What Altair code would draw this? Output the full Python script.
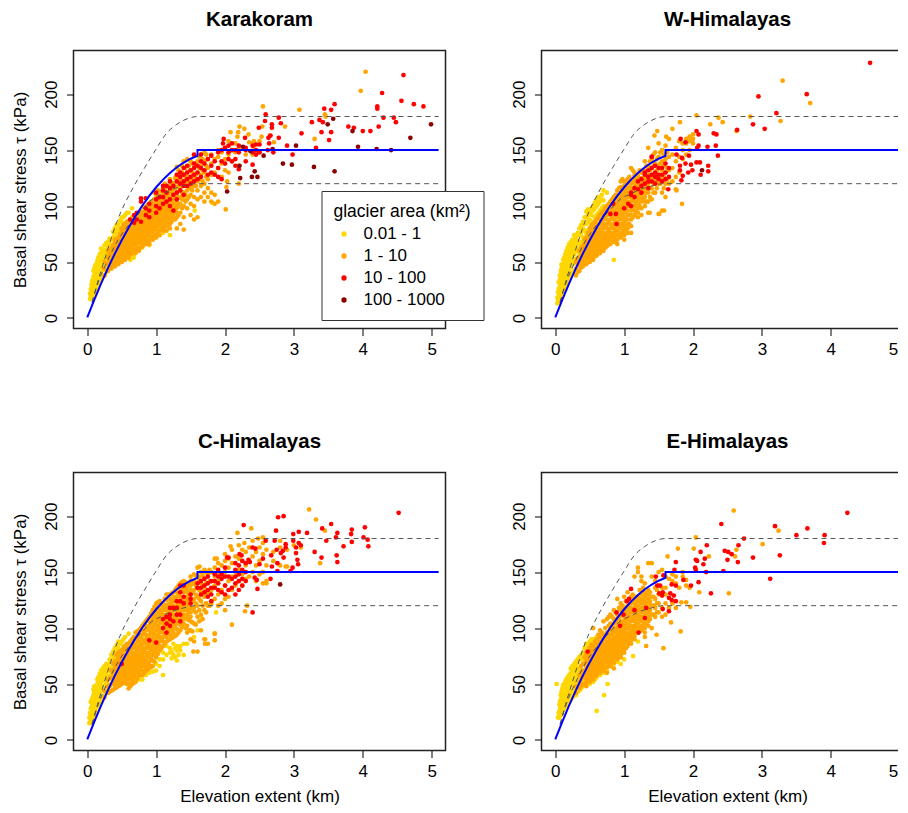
import altair as alt
import pandas as pd

CLASSES = ["0.01 - 1", "1 - 10", "10 - 100", "100 - 1000"]
COLORS = ["#FFD700", "#FFA500", "#FF0000", "#8B0000"]

# Reference lines
BLUE_X = [0, .1, .2, .3, .4, .5, .6, .7, .8, .9, 1, 1.1, 1.2, 1.3, 1.4, 1.5, 1.6, 1.6, 5.1]
BLUE_Y = [0.5, 16, 30.7, 44.5, 57.5, 69.5, 80.7, 91, 100.5, 109.1, 116.8, 123.6, 129.6, 134.7, 138.9, 142.3, 144.8, 150, 150]
UP_X = [.07, .15, .25, .43, .67, .85, 1, 1.15, 1.3, 1.45, 1.6, 5.1]
UP_Y = [14, 32, 52, 86, 117, 136, 151, 165, 173, 178, 180, 180]
LOW_X = [.07, .16, .3, .45, .6, .8, .94, 1.1, 1.23, 1.4, 1.57, 5.1]
LOW_Y = [14, 32, 52, 70, 83, 97, 106, 111, 115, 118, 120, 120]

# Karakoram
KA_Y = {.04:[17,22],.06:[18,24,30],.08:[22,28,34],.1:[20,26,32,38,44],.13:[26,32,38,44,48],.16:[30,36,42,48,54],.2:[34,40,46,52,58,62],.25:[38,46,52,58,65],.3:[44,50,58,64,68],.35:[48,56,62,70],.4:[52,60,68,74,80],.45:[60,70,78,84],.5:[54,66,76,86,90],.55:[70,82,92],.6:[54,82,94],.65:[56,90,98],.7:[58,60],.8:[63],.9:[68,65],1:[72],1.1:[76],1.2:[74,98],1.56:[96],1.81:[103]}
KA_Y2 = {.05:[20,26],.07:[21,27,33],.09:[25,31,37,42],.115:[23,29,35,41,47],.145:[29,35,41,46,51],.18:[33,39,45,51,57],.225:[37,43,49,55,61],.275:[41,49,55,61,67],.325:[46,53,60,66,71],.375:[50,58,65,72,77],.425:[56,64,71,77,83],.475:[62,74,81,87],.525:[72,84,90],.575:[76,86,94],.625:[52,55],.675:[54,57]}
KA_O = {.25:[38,44,50],.3:[42,48,54,60],.35:[44,50,56,62],.4:[46,52,58,64,70],.45:[48,54,60,66,72],.5:[50,56,62,68,74,80],.55:[52,58,64,70,76,84],.6:[54,60,66,72,78,86],.65:[58,63,69,75,81,88],.7:[58,65,71,77,83,90],.75:[60,67,73,79,85,92],.8:[64,70,76,82,88,95],.85:[66,72,78,84,90,96],.9:[66,74,80,86,92,100],.95:[70,77,83,89,95,102],1:[72,79,85,91,97,104,110],1.05:[74,82,88,94,100,108],1.1:[78,84,90,96,102,110,116],1.15:[78,86,92,98,104,112],1.2:[80,88,94,100,108,118,124],1.25:[90,96,102,110,120],1.3:[80,90,98,104,112,122,128,135],1.35:[84,94,102,108,116,124,130],1.4:[79,90,100,106,112,120,128,140],1.45:[98,106,114,122,130,142],1.5:[92,102,110,116,124,132,140],1.55:[88,100,108,118,126,134,145],1.6:[90,106,114,122,130,140],1.65:[108,118,128,136,146],1.7:[104,112,120,130,140,148],1.75:[108,116,124,134,142],1.8:[104,112,128,138,146],1.85:[102,110,130,142],1.9:[104,134,144,150],1.95:[126,138,148],2:[132,142,152],2.05:[130,146,158],2.1:[140,150],2.15:[148,156],2.2:[136,152],2.3:[146],2.4:[146,156],2.5:[148,158]}
KA_O3 = {.325:[45,51,57],.375:[47,53,59,65],.425:[49,55,61,67],.475:[51,57,63,69,75],.525:[53,59,65,71,77,83],.575:[55,61,67,73,79,86],.625:[57,63,69,75,81,88],.675:[60,66,72,78,85,91],.725:[62,68,74,80,87,93],.775:[63,70,76,82,89,95],.825:[67,73,79,85,92,99],.875:[69,75,81,87,94,101],.925:[71,77,83,89,96,104],.975:[74,80,86,92,99,106,112],1.025:[76,83,89,95,102,110,114],1.075:[80,87,93,99,106,113],1.125:[82,89,95,101,108,115,120],1.175:[84,91,97,103,110,118],1.225:[86,93,99,105,113,121],1.275:[88,95,101,107,116,125],1.325:[92,100,108,118,126,132],1.375:[98,106,112,122,130,136],1.425:[104,110,118,126,134],1.475:[108,118,126,136],1.525:[114,122,130,138],1.575:[118,128,138],1.625:[124,134,144],1.675:[122,132,142],1.725:[126,136,146]}
KA_O4 = {.4:[49,55,61,67],.45:[51,57,63,69],.5:[53,59,65,71,77],.55:[55,61,67,73,80],.6:[57,63,69,75,82],.65:[60,66,72,78,85],.7:[61,68,74,80,87],.75:[63,70,76,82,89],.8:[67,73,79,85,92],.85:[69,75,81,87,93],.9:[70,77,83,89,96],.95:[73,80,86,92,99],1:[75,82,88,94,100,107],1.05:[78,85,91,97,104],1.1:[81,87,93,99,106,113],1.15:[82,89,95,101,108],1.2:[84,91,97,104,113],1.25:[93,99,106,115],1.3:[94,101,108,117,125]}
KA_O2 = [(4.04,220),(3.97,203),(2.55,189),(3.08,186),(3.45,182),(3.46,180),(2.87,171),(3.3,160),(2.08,166),(2.21,171),(2.28,169),(2.19,166),(2.18,162),(2.42,158),(2.53,162),(2.54,171),(2.65,163),(2.71,157),(2.34,164),(2.35,157),(2.41,153),(2.01,97),(2.03,122),(2.2,120),(2.02,117)]
KA_R = {.62:[88],.68:[85,92],.72:[94,88],.78:[86,104,107],.85:[92,98,107],.9:[90,96,102],1:[94,100,106,112],1.05:[98,108],1.1:[102,108,114,118],1.15:[104,112,118],1.2:[100,106,116,122],1.25:[96,110,118],1.3:[106,112,122,128],1.35:[114,120,126,130],1.4:[110,118,122,128,134],1.45:[118,124,130,136],1.5:[120,126,132],1.55:[122,128,134,138,146],1.6:[124,130,136],1.65:[126,134,140,146],1.7:[132,138],1.75:[128,142],1.8:[130,136,145],1.85:[128,140],1.9:[126,134,148],1.95:[124,150,140],2:[138,152],2.05:[142,148,154],2.1:[140,150,156],2.15:[136,142,150],2.2:[133,148,154],2.3:[140,150,152],2.4:[137,148,154],2.45:[146,150,155],2.5:[148,155]}
KA_R2 = [(4.59,217),(4.28,201),(4.56,194),(4.74,191),(4.88,189),(4.21,189),(4.21,187),(3.59,191),(3.54,186),(3.44,187),(2.59,182),(2.58,176),(2.78,179),(2.81,174),(3.26,175),(3.37,177),(3.42,175),(3.79,171),(3.87,170),(4,167),(4.11,167),(4.23,171),(4.3,179),(4.45,179),(4.48,175),(3.4,166),(3.54,166),(3.51,159),(3.11,165),(2.49,170),(2.68,173),(2.68,170),(2.78,161),(2.66,163),(2.63,161),(2.64,156),(2.9,154),(2.98,146),(3.32,152),(2.29,161),(1.98,160),(1.97,156),(2.62,150),(2.7,148)]
KA_D = [(4.99,173),(4.69,161),(3.57,178),(3.49,173),(3.85,167),(3.93,153),(4.2,151),(4.41,150),(3.03,154),(2.97,137),(2.84,138),(3.29,135),(3.59,131),(2.69,151),(2.56,145),(2.47,126),(2.39,126),(2.43,131),(2.22,125),(2.21,136),(2.03,113),(2.26,153),(2.37,149)]

# W-Himalayas
WH_Y = {.03:[13,18],.05:[15,20,26,32],.08:[18,24,30,36,42],.1:[22,28,34,40,46],.13:[26,32,38,44,50,54],.16:[30,38,44,50,56,60],.2:[36,42,48,54,60,66],.25:[40,48,54,60,66,70],.3:[40,52,60,66,72],.35:[46,58,66,74,80],.4:[47,50,64,72,80,86],.45:[76,84,90,95],.5:[52,80,88,94],.55:[86,96,100],.6:[56,92,100,105],.65:[96,104],.7:[100,105,114],.75:[112],.85:[52]}
WH_Y2 = {.04:[14,17,23],.065:[17,22,28,34,38],.09:[20,26,32,38,44,48],.115:[24,30,36,42,48,52],.145:[28,35,41,47,53,57],.18:[33,40,46,52,58,63],.225:[38,45,51,57,63,68],.275:[42,50,57,63,69,74],.325:[54,62,69,76],.375:[60,68,76,83],.425:[70,78,84,90],.475:[78,86,92,97],.525:[84,92,98],.575:[90,98,103],.625:[94,102,108],.675:[98,106,110]}
WH_O = {.3:[38,44,50],.35:[42,48,54,60],.4:[46,52,58,64],.45:[48,54,60,66,72],.5:[50,56,62,68,74,80],.55:[52,58,64,70,78,84],.6:[56,62,68,74,80,88],.65:[58,64,70,76,84,92],.7:[60,66,72,80,88,96],.75:[64,70,76,84,92,100],.8:[66,72,80,88,96,104],.85:[68,76,84,92,100,108],.9:[66,74,82,90,98,106,114],.95:[72,80,88,96,104,112,122],1:[70,78,86,94,102,110,118,122],1.05:[76,84,92,100,108,116,124],1.1:[76,88,96,104,112,120,134],1.15:[92,100,108,116,124,130],1.2:[90,98,106,114,122,128],1.25:[92,104,112,120,130],1.3:[100,108,116,124,132,140],1.35:[94,104,112,120,128,136,152],1.4:[106,116,126,134,142],1.45:[112,122,130,138,148],1.5:[93,120,128,136,144,156],1.55:[96,112,124,132,140,150],1.6:[108,120,130,142,154],1.65:[120,132,144,160],1.7:[122,134,146],1.75:[115,126,140,152],1.8:[130,144,158],1.85:[142,150,156],1.9:[146,156,160],1.95:[150,158,162],2:[156,160,164]}
WH_O3 = {.325:[41,47,53],.375:[45,51,57,63],.425:[48,54,60,66,70],.475:[51,57,63,69,76],.525:[53,59,65,71,77,83],.575:[55,61,67,73,80,86],.625:[58,64,70,77,84,90],.675:[60,67,73,80,87,94],.725:[63,69,75,83,91,98],.775:[66,72,79,87,95,102],.825:[68,75,83,91,99,106],.875:[70,78,86,94,102,110],.925:[74,82,90,98,106,116],.975:[76,84,92,100,108,116,124],1.025:[80,88,96,104,112,120],1.075:[84,92,100,108,116,126],1.125:[90,98,106,114,122,132],1.175:[95,103,111,119,127],1.225:[100,108,116,124,132],1.275:[106,114,122,130],1.325:[104,112,120,128,136],1.375:[108,116,124,132,140],1.425:[112,120,128,136,146],1.475:[116,124,132,142],1.525:[120,128,138,148],1.575:[116,126,136,146],1.625:[124,134,148]}
WH_O4 = {.4:[49,55,61],.45:[51,57,63,69],.5:[53,59,65,71,77],.55:[55,61,67,74,81],.6:[59,65,71,77,84],.65:[61,67,73,80,88],.7:[63,69,76,84,92],.75:[67,73,80,88,96],.8:[69,76,84,92,100],.85:[72,80,88,96,104],.9:[70,78,86,94,102,110],.95:[76,84,92,100,108,117],1:[74,82,90,98,106,114],1.05:[80,88,96,104,112,120],1.1:[82,92,100,108,116],1.15:[96,104,112,120,127],1.2:[94,102,110,118,125],1.25:[98,108,116,125],1.3:[104,112,120,128]}
WH_O2 = [(3.3,212),(3.7,192),(3.27,176),(2.83,180),(2.05,181),(2.37,179),(2.43,175),(2.25,173),(2.63,167),(1.81,175),(1.7,169),(1.48,167),(1.44,163),(1.61,162),(1.84,102),(1.58,96),(1.51,93),(1.37,94),(1.76,114)]
WH_R = {1.1:[110,112],1.15:[108,116],1.2:[115,122],1.25:[112,118,124],1.3:[120,128,130],1.35:[116,122,126,132],1.4:[122,128,134,144],1.45:[120,126,130,136],1.5:[124,128,134],1.55:[122,128,134],1.6:[124,130,138],1.65:[126,134]}
WH_R2 = [(4.57,228),(3.65,200),(2.95,198),(3.21,183),(2.87,173),(3.04,169),(2.64,168),(2.05,167),(2.08,164),(2.3,165),(2.34,164),(1.82,160),(1.89,157),(2.08,154),(2.06,152),(2.21,153),(2.33,154),(2.36,145),(1.94,145),(2.1,139),(2.05,139),(2.22,136),(1.97,137),(1.89,138),(1.81,136),(1.99,132),(2.22,131),(1.93,130),(2.11,128),(1.83,123),(1.85,127),(1.81,132),(1.64,115),(1.76,146),(1.84,143),(.89,84),(.88,93),(.8,93),(1,98),(.84,102),(1.06,102),(1.1,100),(1.4,144)]
WH_D = [(2.13,132)]

# C-Himalayas
CH_Y = {.03:[15,20],.05:[15,22,28,34],.08:[18,26,32,38],.1:[22,28,36,42,48],.13:[28,36,42,48],.16:[32,40,46,52,56],.2:[36,44,50,56,62],.25:[40,48,56,62,66],.3:[46,54,62,68],.35:[50,60,70,76],.4:[56,66,74,82],.45:[60,72,82,88],.5:[80,88],.55:[92],.6:[50,95],.7:[52,55],.8:[54,58],.9:[60,65],1:[62,68],1.05:[66,72],1.1:[58,72,78],1.15:[76,84],1.2:[78,82],1.25:[76,86],1.3:[71,80,84],1.35:[80,84],1.4:[76,86],1.45:[86],1.55:[92],1.6:[98],1.65:[110],1.87:[114]}
CH_Y2 = {.04:[16,19,24],.065:[17,24,30,36],.09:[20,27,34,40,45],.115:[25,32,39,45],.145:[30,38,44,50,54],.18:[34,42,48,54,59],.225:[38,46,53,59,64],.275:[43,51,59,65,68],.325:[48,57,65,72],.375:[53,63,72,79],.425:[58,69,78,85],.475:[66,80,86],.525:[84,90],.65:[50,54],.75:[54,57],.85:[58,62],.95:[61,66],1.225:[73,79],1.275:[74,82],1.325:[76,82]}
CH_O = {.25:[38,44],.3:[42,48,54],.35:[44,50,56,62],.4:[46,52,58,64,70],.45:[48,54,60,66,72,78],.5:[50,56,62,68,74,80],.55:[52,58,64,70,76,84],.6:[46,54,60,66,72,78,86],.65:[50,56,62,68,74,82,90],.7:[52,60,66,72,78,86,96],.75:[58,64,70,76,84,92,98],.8:[58,66,72,78,86,94,102],.85:[62,68,74,82,90,98,106],.9:[64,70,78,86,94,102,110],.95:[66,76,84,92,100,108,116],1:[74,82,90,98,106,114,122],1.05:[80,88,96,104,112,120,124],1.1:[84,92,100,108,116,122],1.15:[88,96,104,112,120,130],1.2:[90,98,106,114,122,130],1.25:[92,100,108,116,124,132],1.3:[94,104,112,120,128,136],1.35:[98,108,116,124,132,140],1.4:[104,112,120,128,136,142],1.45:[96,108,116,124,132,140],1.5:[90,106,114,122,130,138,146],1.55:[88,104,118,126,134,142,148],1.6:[79,110,120,128,136,146,154],1.65:[98,112,124,132,140,150],1.7:[90,116,128,136,144,152],1.75:[86,120,130,140,148],1.8:[122,134,142,150],1.85:[89,95,126,138,146,154,162],1.9:[120,130,142,150,158],1.95:[122,134,146,156],2:[116,126,138,150,160,166],2.05:[128,142,154,162],2.1:[134,146,158,170],2.15:[138,150,164],2.2:[142,152,162,174],2.25:[138,148,160,170],2.3:[144,156,168],2.35:[146,160,172],2.4:[150,164,178],2.45:[142,156,168],2.5:[148,160,172],2.55:[140,150,166,176],2.6:[142,156,170],2.7:[160,168],2.8:[156,172,178],2.9:[155,170],3:[174]}
CH_O3 = {.325:[43,49,55],.375:[45,51,57,63,68],.425:[47,53,59,65,71,76],.475:[49,55,61,67,73,79],.525:[51,57,63,69,75,82],.575:[50,56,62,68,74,80,86],.625:[48,55,61,67,73,80,88],.675:[51,58,64,70,76,84,92],.725:[55,62,68,74,81,89,97],.775:[58,65,71,77,85,93,100],.825:[60,67,73,80,88,96,104],.875:[63,69,76,84,92,100,108],.925:[65,73,81,89,97,105,113],.975:[70,79,87,95,103,111,119],1.025:[77,85,93,101,109,117,123],1.075:[82,90,98,106,114,121],1.125:[86,94,102,110,118,126],1.175:[89,97,105,113,121,130],1.225:[91,99,107,115,123,131],1.275:[93,102,110,118,126,134],1.325:[96,106,114,122,130,138],1.375:[101,110,118,126,134,141],1.425:[100,110,118,126,134,141],1.475:[98,107,115,123,131,139],1.525:[97,105,116,124,132,140],1.575:[103,114,122,130,138,147],1.625:[106,116,126,134,143],1.675:[108,120,130,138,147],1.725:[114,122,132,140,150],1.775:[120,132,142,152]}
CH_O4 = {.4:[49,55,61,67],.45:[51,57,63,69,75],.5:[53,59,65,71,77],.55:[55,61,67,73,80],.6:[50,57,63,69,75,82],.65:[53,59,65,71,78,86],.7:[56,63,69,75,82,91],.75:[61,67,73,80,88,95],.8:[62,69,75,82,90,98],.85:[65,71,78,86,94,102],.9:[67,74,82,90,98,106],.95:[71,80,88,96,104,112],1:[78,86,94,102,110,118],1.05:[84,92,100,108,116,122],1.1:[88,96,104,112,119],1.15:[92,100,108,116,125],1.2:[94,102,110,118,126],1.25:[96,104,112,120,128],1.3:[99,108,116,124,132],1.35:[103,112,120,128,136],1.4:[108,116,124,132,139],1.45:[102,112,120,128,136],1.5:[98,110,118,126,134,142]}
CH_O2 = [(3.22,206),(3.32,197),(2.38,189),(2.18,185),(3.45,187),(3.38,158),(3.1,172),(2.55,181),(2.48,180),(2.28,176),(2.08,173),(1.88,162),(2.29,115),(2.32,120),(2.1,103),(1.85,95),(1.71,90),(1.71,86),(1.54,79),(1.63,146),(1.63,155),(2.88,155),(2.6,140)]
CH_R = {.5:[68],.9:[89],1:[87],1.1:[100,108],1.15:[96,104,110],1.2:[102,108,112,118],1.25:[106,118],1.3:[112,118,124],1.35:[106,112,124,132,138],1.4:[122,128,138],1.5:[122,126,130],1.6:[136,140],1.65:[130,136,142],1.7:[132,138,144],1.75:[128,134,140,146],1.8:[124,130,136,142],1.85:[136,142,148],1.9:[134,140,146,152],1.95:[132,144,148],2:[130,138,146,154],2.05:[134,146,163],2.1:[136,144],2.15:[130,140,146,152,158],2.2:[134,142,148,156],2.25:[138,144,152,160],2.3:[142,150,158]}
CH_R2 = [(4.52,203),(2.85,200),(2.77,199),(2.27,192),(3.54,193),(3.41,189),(3.84,188),(4.03,190),(3.83,184),(3.63,185),(3.19,185),(3.07,186),(2.99,184),(2.74,187),(3.61,181),(4.01,181),(4.07,179),(3.84,177),(3.47,178),(2.72,178),(2.59,178),(4.08,173),(3.72,173),(3.62,165),(3.63,159),(3.4,163),(3.3,168),(3.03,167),(3.05,161),(3.06,157),(2.98,154),(2.95,151),(2.99,178),(3.03,172),(3.07,176),(3.1,174),(2.88,175),(2.88,172),(2.84,169),(2.81,167),(2.85,163),(2.75,170),(2.67,165),(2.68,155),(2.76,158),(2.76,151),(2.66,144),(2.47,135),(2.4,114),(2.4,172),(2.44,171),(2.34,161),(2.36,159),(2.5,157),(2.55,162),(2.24,165),(2.03,163),(2.21,166),(2.46,143),(2.43,145)]
CH_D = [(2.8,139)]

# E-Himalayas
EH_Y = {.02:[50],.04:[20],.06:[20,26,32],.08:[22,28,34,40],.1:[24,30,36,42,46],.13:[28,34,40,46,50],.16:[30,36,42,48,54],.2:[34,40,46,52,58],.25:[38,44,50,56,62,66],.3:[40,48,54,60,66,70],.35:[44,52,58,64,74],.4:[48,58,72,78],.45:[66,70,74,86],.5:[50,82,88],.55:[52,90],.6:[26,56,92],.7:[60,64],.71:[40],.76:[50],.8:[66,74],.9:[70,78],.95:[68,74],1:[72],1.13:[75],1.2:[88]}
EH_Y2 = {.05:[21,24],.07:[22,29,35],.09:[25,31,37,43],.115:[27,33,39,45,49],.145:[29,35,41,47,52],.18:[32,38,44,50,56],.225:[36,42,48,54,60,64],.275:[40,46,52,58,64,68],.325:[43,50,56,62,69,72],.375:[46,56,62,72,76],.425:[52,68,76,82],.475:[62,72,84],.525:[86,90],.575:[54,58],.65:[58,62],.75:[62,66],.85:[68,72]}
EH_O = {.3:[42,48],.35:[46,52,58],.4:[50,56,62,68],.45:[48,54,60,66,72,78],.5:[52,58,64,70,76,82],.55:[54,60,66,72,78,84,100],.6:[58,64,70,76,82,90],.65:[60,66,72,78,84,92,98],.7:[62,68,74,80,86,94,106],.75:[60,70,76,82,88,96,108],.8:[66,72,78,84,90,98,104,112],.85:[64,74,80,86,92,100,108,116],.9:[72,78,84,90,96,104,112,126],.95:[74,80,86,92,98,106,116,122],1:[78,84,90,96,102,110,118,128],1.05:[84,90,96,104,112,120,132],1.1:[86,92,98,106,114,122,128],1.15:[90,96,102,110,118,126,146],1.2:[96,104,112,120,128,150,154],1.25:[98,106,114,122,130,142,146],1.3:[92,100,108,116,124,132,140],1.35:[102,110,118,126,134,158],1.4:[100,112,120,128,146,158],1.45:[110,118,126,136,142],1.5:[114,122,130,138,150],1.55:[110,118,136,152],1.6:[112,122,130,136,146],1.65:[118,144],1.7:[122,142,148],1.75:[118,140,146],1.8:[136],1.85:[146,150],1.9:[138,143],1.95:[136]}
EH_O3 = {.375:[48,54,60,66],.425:[50,56,62,68,74],.475:[53,59,65,71,77],.525:[55,61,67,73,79,85],.575:[57,63,69,75,81,88],.625:[60,66,72,78,85,94],.675:[63,69,75,81,88,96],.725:[65,71,77,83,91,100],.775:[68,74,80,86,93,102,110],.825:[70,76,82,88,95,102,110],.875:[73,79,85,91,98,106,114],.925:[76,82,88,94,101,109,118],.975:[78,84,90,97,104,112,120],1.025:[82,88,94,100,108,116,124],1.075:[88,94,102,110,118,126],1.125:[92,100,108,116,124,130],1.175:[96,104,112,120,128],1.225:[100,108,116,124,134],1.275:[102,110,118,126,136],1.325:[106,114,122,130],1.375:[108,116,124,132],1.425:[112,120,128],1.475:[114,122,134]}
EH_O4 = {.45:[51,57,63,69,75],.5:[55,61,67,73,79],.55:[57,63,69,75,81],.6:[61,67,73,79,86],.65:[63,69,75,81,88],.7:[65,71,77,83,90],.75:[65,73,79,85,92],.8:[69,75,81,87,94,101],.85:[69,77,83,89,96,104],.9:[75,81,87,93,100,108],.95:[77,83,89,95,102,111],1:[81,87,93,99,106,114],1.05:[87,93,100,108,116],1.1:[89,95,102,110,118],1.15:[93,99,106,114,122],1.2:[100,108,116,124],1.25:[102,110,118,126],1.3:[96,104,112,120,128],1.35:[106,114,122,130]}
EH_O2 = [(2.59,205),(3.24,187),(2.04,181),(3.01,175),(1.78,171),(2.01,171),(1.63,164),(2.23,164),(2.63,170),(2.61,164),(2.52,131),(2.09,132),(1.96,119),(1.82,97),(1.57,82),(1.32,84),(1.47,94),(1.68,105),(1.9,123),(1.83,123)]
EH_R = [(4.24,203),(3.91,183),(3.9,176),(3.66,189),(3.5,183),(3.19,191),(2.41,193),(2.74,180),(2.66,174),(2.46,169),(2.51,168),(2.56,166),(2.5,161),(2.65,159),(2.87,163),(3.26,165),(3.12,144),(2.44,151),(2.26,131),(2.2,174),(2.11,168),(2.04,161),(2.06,160),(2.17,162),(2.15,157),(2.03,154),(2.04,152),(2.19,150),(2.08,141),(1.75,159),(1.73,152),(1.97,138),(1.86,143),(1.75,138),(1.69,139),(1.57,147),(1.46,146),(1.52,138),(1.48,138),(1.67,131),(1.72,129),(1.75,124),(1.65,127),(1.69,125),(1.56,132),(1.51,131),(1.55,129),(1.56,117),(1.65,115),(1.1,135),(1.07,126),(1.04,124),(1.15,116),(.99,112),(.89,114),(.94,102),(.47,79),(1.21,96),(1.3,109),(1.32,118)]


def cols(d):
    return [(x, y) for x, ys in d.items() for y in ys]


def table(yellow, orange, red, dark):
    rows = []
    for name, pts in zip(CLASSES, [yellow, orange, red, dark]):
        rows += [{"x": x, "y": y, "area": name} for x, y in pts]
    return pd.DataFrame(rows)


FONT = "Liberation Sans"
XS = alt.Scale(domain=[-0.2, 5.2], nice=False, zero=False)
YS = alt.Scale(domain=[-9.4, 239], nice=False, zero=False)
LEGEND = alt.Legend(
    orient="none", legendX=248, legendY=140.5, title="glacier area (km²)",
    fillColor="white", strokeColor="#333333", padding=12,
    titleFont=FONT, titleFontSize=17.5, titleFontWeight="normal", titleColor="black",
    labelFont=FONT, labelFontSize=17, labelColor="black", labelOffset=11,
    symbolType="circle", symbolSize=28, symbolOffset=2, rowPadding=4, titlePadding=5,
    symbolStrokeWidth=0,
)


def panel(title, df, bottom, left):
    extra = {} if left else {"labelAlign": alt.expr("datum.value == 5 ? 'right' : 'center'"),
                             "labelOffset": alt.expr("datum.value == 5 ? -2 : 0")}
    xax = alt.Axis(values=[0, 1, 2, 3, 4, 5], format="d", title="Elevation extent (km)" if bottom else None,
                   grid=False, domain=False, tickSize=7, tickColor="black", tickWidth=1,
                   labelFont=FONT, labelFontSize=17, labelColor="black", labelPadding=6,
                   labelAngle=0, titleFont=FONT, titleFontSize=17, titleFontWeight="normal",
                   titleColor="black", titlePadding=9, **extra)
    yax = alt.Axis(values=[0, 50, 100, 150, 200], title="Basal shear stress τ (kPa)" if left else None,
                   grid=False, domain=False, tickSize=7, tickColor="black", tickWidth=1,
                   labelFont=FONT, labelFontSize=17, labelColor="black", labelAngle=270,
                   labelAlign="center", labelBaseline="bottom", labelPadding=6,
                   titleFont=FONT, titleFontSize=17, titleFontWeight="normal",
                   titleColor="black", titlePadding=13)
    pts = alt.Chart(df).mark_circle(size=22, opacity=1).encode(
        x=alt.X("x:Q", scale=XS, axis=xax),
        y=alt.Y("y:Q", scale=YS, axis=yax),
        color=alt.Color("area:N", scale=alt.Scale(domain=CLASSES, range=COLORS), legend=LEGEND),
    )
    up = alt.Chart(pd.DataFrame({"x": UP_X, "y": UP_Y})).mark_line(
        color="#555555", strokeWidth=1, strokeDash=[5, 4], interpolate="monotone"
    ).encode(x=alt.X("x:Q", scale=XS), y=alt.Y("y:Q", scale=YS))
    low = alt.Chart(pd.DataFrame({"x": LOW_X, "y": LOW_Y})).mark_line(
        color="#555555", strokeWidth=1, strokeDash=[5, 4], interpolate="monotone"
    ).encode(x=alt.X("x:Q", scale=XS), y=alt.Y("y:Q", scale=YS))
    blue = alt.Chart(pd.DataFrame({"x": BLUE_X, "y": BLUE_Y, "i": range(len(BLUE_X))})).mark_line(
        color="#0000FF", strokeWidth=2
    ).encode(x=alt.X("x:Q", scale=XS), y=alt.Y("y:Q", scale=YS), order="i:Q")
    return alt.layer(pts, up, low, blue).properties(
        width=372, height=278,
        title=alt.TitleParams(title, font=FONT, fontSize=20.5, fontWeight="bold", color="black",
                              anchor="middle", offset=20),
    )


a = panel("Karakoram", table(cols(KA_Y) + cols(KA_Y2), cols(KA_O) + cols(KA_O3) + cols(KA_O4) + KA_O2, cols(KA_R) + KA_R2, KA_D), False, True)
b = panel("W-Himalayas", table(cols(WH_Y) + cols(WH_Y2), cols(WH_O) + cols(WH_O3) + cols(WH_O4) + WH_O2, cols(WH_R) + WH_R2, WH_D), False, False)
c = panel("C-Himalayas", table(cols(CH_Y) + cols(CH_Y2), cols(CH_O) + cols(CH_O3) + cols(CH_O4) + CH_O2, cols(CH_R) + CH_R2, CH_D), True, True)
d = panel("E-Himalayas", table(cols(EH_Y) + cols(EH_Y2), cols(EH_O) + cols(EH_O3) + cols(EH_O4) + EH_O2, EH_R, []), True, False)

chart = alt.vconcat(
    alt.hconcat(a, b, spacing=63), alt.hconcat(c, d, spacing=63), spacing=72
).properties(padding={"left": 2.5, "top": 0.5, "right": -17, "bottom": 0}).configure_view(
    stroke="#222222", strokeWidth=1.5
)
chart.save("out.html", embed_options={"renderer": "svg", "actions": False})
